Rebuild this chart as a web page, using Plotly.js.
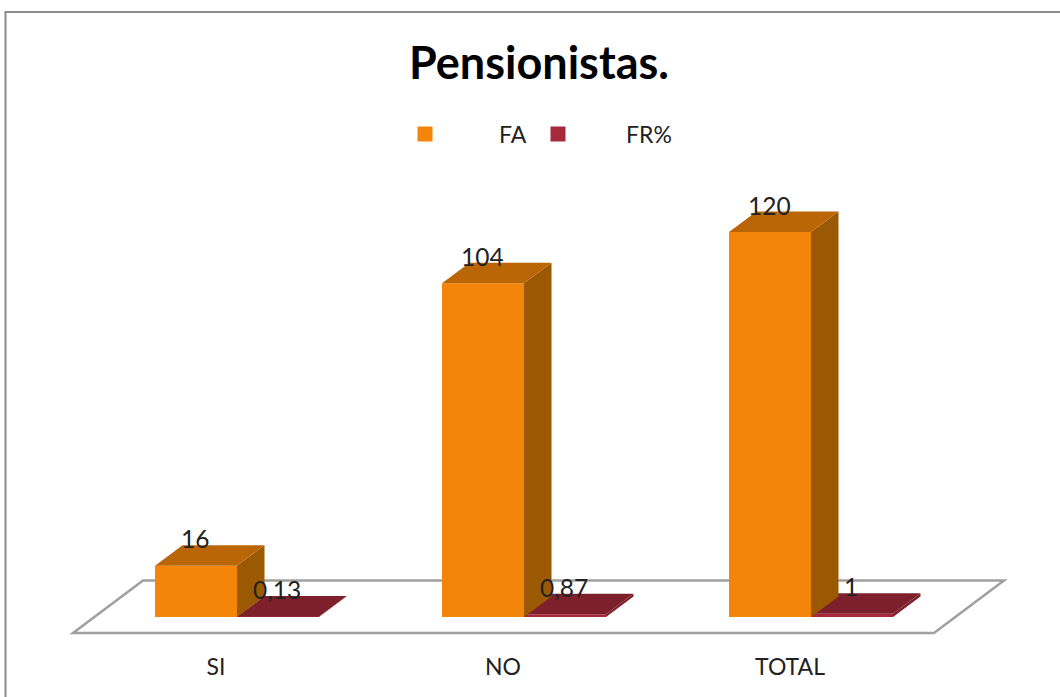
<!DOCTYPE html>
<html><head><meta charset="utf-8">
<script src="https://cdn.plot.ly/plotly-3.0.1.min.js"></script>
<style>html,body{margin:0;padding:0;background:#fff}#c{width:1060px;height:697px}</style>
</head><body><div id="c"></div>
<script>
const categories = ['SI','NO','TOTAL'];
const faValues = [16,104,120];
const frValues = [0.13,0.87,1];
const chartTitle = 'Pensionistas.';

const W=1060,H=697,mB=60,plotH=H-mB;
const ux=287, uy=385/120, originX=237, originY=617;
const barW=82/ux, depthX=27.5/ux, depthY=20.5/uy;
const idx=categories.map((_,i)=>i);
const FONT='Lato, Carlito, sans-serif', TXT='#222222';
const ORANGE='#F3850A', ORANGE_TOP='#BA6607', ORANGE_SIDE='#9C5903';
const RED='#A62A3C', RED_TOP='#7E202C', RED_SIDE='#7E202C';

function poly(pts,fill){
  return {type:'path',xref:'x',yref:'y',layer:'above',fillcolor:fill,line:{width:0},
    path:'M'+pts.map(p=>p[0]+','+p[1]).join('L')+'Z'};
}
function box3d(x0,v,top,side){
  const x1=x0+barW;
  return [
    poly([[x1,0],[x1+depthX,depthY],[x1+depthX,v+depthY],[x1,v]],side),
    poly([[x0,v],[x0+depthX,v+depthY],[x1+depthX,v+depthY],[x1,v]],top)
  ];
}
const px=p=>p/W, py=p=>(plotH-p)/plotH;
const shapes=[
  {type:'path',xref:'paper',yref:'paper',layer:'below',fillcolor:'#ffffff',line:{color:'#a0a0a0',width:2.5},
   path:`M${px(73)},${py(633)}L${px(143)},${py(580.5)}L${px(1004)},${py(580.5)}L${px(934)},${py(633)}Z`},
  {type:'line',xref:'paper',yref:'paper',layer:'below',x0:px(5.5),x1:px(5.5),y0:py(697),y1:py(12),line:{color:'#8c8c8c',width:2}},
  {type:'line',xref:'paper',yref:'paper',layer:'below',x0:px(4.5),x1:px(1060),y0:py(12),y1:py(12),line:{color:'#8c8c8c',width:2}}
];
idx.forEach(i=>{
  shapes.push(...box3d(i,frValues[i],RED_TOP,RED_SIDE));
  shapes.push(...box3d(i-barW,faValues[i],ORANGE_TOP,ORANGE_SIDE));
});

const annotations=[];
idx.forEach(i=>{
  annotations.push({x:i-barW/2,y:faValues[i],text:String(faValues[i]),showarrow:false,yanchor:'middle',xanchor:'center',yshift:27,xshift:-1,font:{family:FONT,size:24.5,color:TXT}});
  annotations.push({x:i+barW/2,y:frValues[i],text:String(frValues[i]).replace('.',','),showarrow:false,yanchor:'middle',xanchor:'center',yshift:27,xshift:-1,font:{family:FONT,size:24.5,color:TXT}});
});

const traces=[
  {type:'bar',x:idx,y:faValues,name:'FA',marker:{color:ORANGE,line:{width:0}},showlegend:false,hoverinfo:'x+y'},
  {type:'bar',x:idx,y:frValues,name:'FR%',marker:{color:RED,line:{width:0}},showlegend:false,hoverinfo:'x+y'},
  {type:'scatter',mode:'markers',x:[null],y:[null],name:'FA',legend:'legend',marker:{symbol:'square',size:15,color:ORANGE}},
  {type:'scatter',mode:'markers',x:[null],y:[null],name:'FR%',legend:'legend2',marker:{symbol:'square',size:15,color:RED}}
];
const legendBase={orientation:'h',xanchor:'left',yanchor:'middle',bgcolor:'rgba(0,0,0,0)',font:{family:FONT,size:23,color:TXT},itemclick:false,itemdoubleclick:false};
const layout={
  width:W,height:H,paper_bgcolor:'#fff',plot_bgcolor:'rgba(0,0,0,0)',
  margin:{l:0,r:0,t:0,b:mB},
  title:{text:chartTitle,x:539/W,xanchor:'center',y:1-63/H,yanchor:'middle',font:{family:FONT,size:45,color:'#000',weight:700}},
  barmode:'group',bargap:1-164/287,bargroupgap:0,
  xaxis:{type:'linear',range:[-originX/ux,(W-originX)/ux],tickmode:'array',tickvals:idx,ticktext:categories,
    ticks:'',showgrid:false,zeroline:false,showline:false,fixedrange:true,ticklabelshift:-21,ticklabelstandoff:14,
    tickfont:{family:FONT,size:23,color:TXT}},
  yaxis:{visible:false,range:[-(plotH-originY)/uy,originY/uy],fixedrange:true},
  legend:Object.assign({x:351/W,y:py(134),itemwidth:138},legendBase),
  legend2:Object.assign({x:490/W,y:py(134),itemwidth:126},legendBase),
  shapes,annotations,hovermode:'closest'
};
Plotly.newPlot('c',traces,layout,{displayModeBar:false,responsive:false});
</script></body></html>
